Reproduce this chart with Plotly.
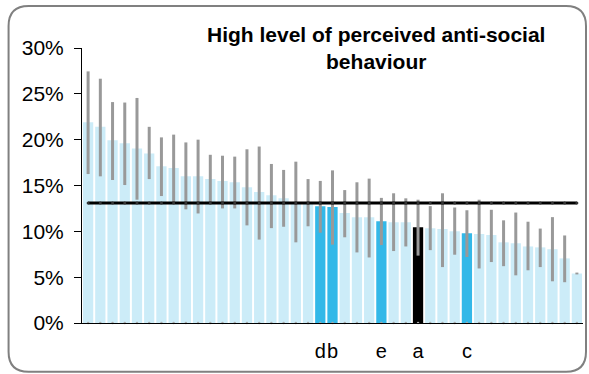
import plotly.graph_objects as go

# ---------------- data (percent) ----------------
categories = list(range(1, 42))
values = [21.9, 21.4, 19.95, 19.6, 19.05, 18.5, 17.1, 16.9, 16.0, 16.0, 15.7, 15.5, 15.35, 14.8,
          14.3, 13.95, 13.6, 13.1, 13.0, 12.75, 12.65, 12.0, 11.55, 11.55, 11.1, 11.0, 11.0,
          10.45, 10.35, 10.25, 10.0, 9.8, 9.7, 9.6, 8.8, 8.7, 8.35, 8.25, 8.05, 7.05, 5.4]
upper = [27.45, 26.65, 24.1, 24.05, 24.55, 21.4, 20.25, 20.55, 19.7, 20.0, 18.35, 18.25, 18.15, 18.95,
         19.25, 17.35, 16.7, 17.6, 15.7, 15.5, 16.65, 14.5, 15.35, 15.75, 13.65, 14.15, 13.6,
         13.45, 12.75, 14.15, 12.6, 12.3, 13.45, 12.35, 11.2, 12.05, 11.05, 10.3, 11.55, 9.55, 5.5]
lower = [16.25, 16.0, 15.6, 15.05, 13.45, 15.7, 13.85, 13.2, 12.4, 11.95, 12.95, 12.5, 12.5, 10.65,
         9.1, 10.35, 10.5, 8.8, 10.55, 9.85, 8.55, 9.35, 7.7, 7.15, 8.5, 7.85, 8.35,
         7.35, 7.95, 6.1, 7.45, 7.2, 5.95, 6.65, 6.2, 5.2, 5.75, 6.1, 4.55, 4.45, 5.3]
tick_labels = [""] * 19 + ["d", "b", "", "", "", "e", "", "", "a", "", "", "", "c"] + [""] * 9
average = [13.1] * 41
baseline = [0] * 41
y_ticks = [0, 5, 10, 15, 20, 25, 30]
title_text = "High level of perceived anti-social<br>behaviour"

# ---------------- styles ----------------
LIGHT = "#CCECF8"
HILITE = "#33B8E8"
SELECT = "#000000"
colors = []
for lab in tick_labels:
    if lab == "a":
        colors.append(SELECT)
    elif lab:
        colors.append(HILITE)
    else:
        colors.append(LIGHT)

err_plus = [u - v for u, v in zip(upper, values)]
err_minus = [v - l for v, l in zip(values, lower)]

W, H = 589, 374
PL, PR, PT, PB = 81.5, 583.0, 48.0, 322.7
FONT = "Liberation Sans, Arial, sans-serif"

fig = go.Figure()
fig.add_trace(go.Bar(
    x=categories, y=values, marker=dict(color=colors, line=dict(width=0)),
    error_y=dict(type="data", symmetric=False, array=err_plus, arrayminus=err_minus,
                 color="#999999", thickness=3, width=0),
    showlegend=False, hoverinfo="skip"))
fig.add_trace(go.Scatter(
    x=categories, y=average, mode="lines+markers",
    line=dict(color="#000000", width=3), marker=dict(size=3, color="#333333"),
    showlegend=False, hoverinfo="skip"))
fig.add_trace(go.Scatter(
    x=categories, y=baseline, mode="markers",
    marker=dict(size=2.5, color="#aaaaaa"), showlegend=False, hoverinfo="skip", cliponaxis=False))

def px(x):
    return (x - PL) / (PR - PL)

def py(y):
    return (PB - y) / (PB - PT)

L, R, T, B, r = 8, 586, 6, 371.5, 20
path = (f"M {px(L+r)},{py(T)} L {px(R-r)},{py(T)} Q {px(R)},{py(T)} {px(R)},{py(T+r)} "
        f"L {px(R)},{py(B-r)} Q {px(R)},{py(B)} {px(R-r)},{py(B)} "
        f"L {px(L+r)},{py(B)} Q {px(L)},{py(B)} {px(L)},{py(B-r)} "
        f"L {px(L)},{py(T+r)} Q {px(L)},{py(T)} {px(L+r)},{py(T)} Z")
fig.add_shape(type="path", path=path, xref="paper", yref="paper",
              line=dict(color="#808080", width=2), layer="above")

fig.add_annotation(text=title_text, x=px(376), y=py(21), xref="paper", yref="paper",
                   xanchor="center", yanchor="top", showarrow=False, align="center",
                   font=dict(family=FONT, size=21, color="#000000", weight="bold"))

fig.update_layout(
    width=W, height=H, paper_bgcolor="white", plot_bgcolor="white",
    margin=dict(l=PL, r=W - PR, t=PT, b=H - PB, pad=0),
    bargap=0.16, font=dict(family=FONT, size=20, color="#000000"),
)
fig.update_xaxes(
    range=[0.5, 41.5], tickmode="array", tickvals=categories, ticktext=tick_labels,
    tickangle=0, showline=True, linecolor="#000000", linewidth=1.2, ticks="", showgrid=False,
    zeroline=False, tickfont=dict(family=FONT, size=20), ticklabelstandoff=10)
fig.update_yaxes(
    range=[0, 30], tickmode="array", tickvals=y_ticks, ticktext=[f"{t}%" for t in y_ticks],
    showline=True, linecolor="#000000", linewidth=1, ticks="outside", ticklen=7,
    tickcolor="#000000", showgrid=False, zeroline=False,
    tickfont=dict(family=FONT, size=21), ticklabelstandoff=6)

fig.write_html("out.html", config={"displayModeBar": False},
               post_script="document.body.style.margin='0';document.body.style.overflow='hidden';")
